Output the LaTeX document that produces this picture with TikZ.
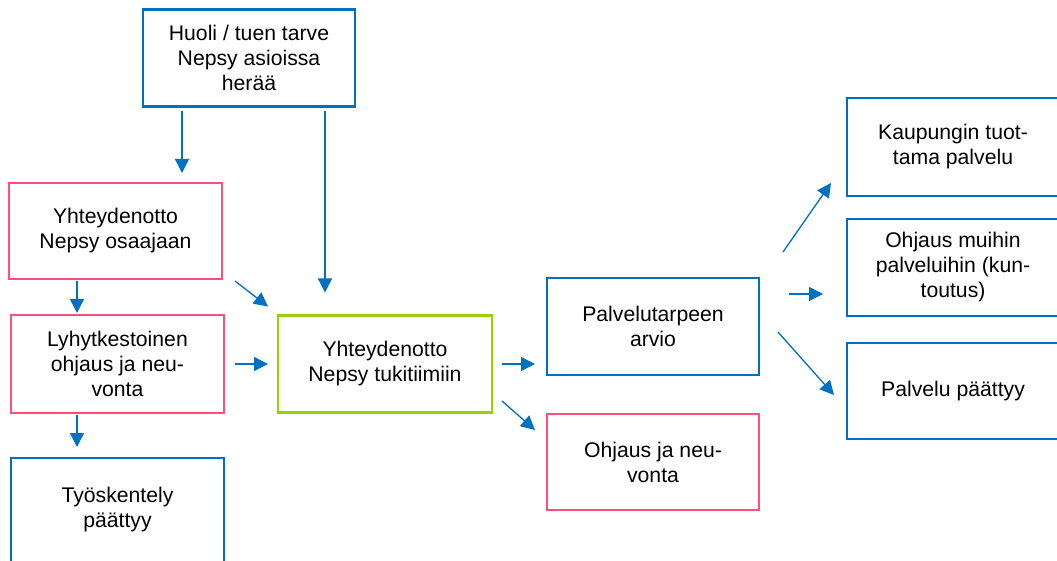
\documentclass[tikz,border=0pt]{standalone}
\usepackage{fontspec}
\setmainfont{Liberation Sans}
\usetikzlibrary{arrows.meta}

\definecolor{nblue}{HTML}{0070C0}
\definecolor{npink}{HTML}{FF4F7A}
\definecolor{ngreen}{HTML}{9BD000}

\begin{document}
\begin{tikzpicture}[x=1pt,y=-1pt,
  box/.style={draw=nblue,line width=2.6pt,minimum width=212,minimum height=97,
    align=center,inner sep=0pt,outer sep=0pt,font=\fontsize{21.2}{25}\selectfont},
  pinkbox/.style={box,draw=npink},
  greenbox/.style={box,draw=ngreen},
  arr/.style={draw=nblue,line width=1.3pt,-{Triangle[length=14pt,width=14pt]},color=nblue}]
\useasboundingbox (0,0) rectangle (1057,561);
\clip (0,0) rectangle (1057,561);

\node[box] (21) at (249,58) {Huoli / tuen tarve\\Nepsy asioissa\\herää};

\node[pinkbox,minimum width=213,minimum height=96] (11) at (115.5,231) {Yhteydenotto\\Nepsy osaajaan};
\node[pinkbox,minimum width=213,minimum height=98] (12) at (117.5,364) {Lyhytkestoinen\\ohjaus ja neu-\\vonta};
\node[box,minimum width=213,minimum height=104] (13) at (117.5,510) {Työskentely\\päättyy};

\node[greenbox,minimum width=214] (22) at (385,364) {Yhteydenotto\\Nepsy tukitiimiin};

\node[box] (31) at (653,326.5) {Palvelutarpeen\\arvio};
\node[pinkbox,minimum height=96] (32) at (653,462) {Ohjaus ja neu-\\vonta};

\node[box,minimum height=98] (41) at (953,147) {Kaupungin tuot-\\tama palvelu};
\node[box] (42) at (953,267.5) {Ohjaus muihin\\palveluihin (kun-\\toutus)};
\node[box,minimum height=96] (43) at (953,391) {Palvelu päättyy};

\draw[arr] ([shift={(39,5)}]21.south west) -- ([shift={(-40,-10)}]11.north east);
\draw[arr] ([shift={(-30,5)}]21.south east) -- ([shift={(-60,-23)}]22.north);
\draw[arr] ([shift={(-38.5,2)}]11.south) -- ([shift={(-40.5,-2)}]12.north);
\draw[arr] ([shift={(-40.5,2)}]12.south) -- ([shift={(-40.5,-11)}]13.north);
\draw[arr] ([shift={(13,2)}]11.south east) -- ([shift={(-10,-9)}]22.north west);
\draw[arr] ([shift={(11,0)}]12.east) -- ([shift={(-10,0)}]22.west);
\draw[arr] ([shift={(10,0)}]22.east) -- ([shift={(-12,37.5)}]31.west);
\draw[arr] ([shift={(10,-11.5)}]22.south east) -- ([shift={(-12,16)}]32.north west);
\draw[arr] ([shift={(24,-26)}]31.north east) -- ([shift={(-16,-13)}]41.south west);
\draw[arr] ([shift={(30,-32.5)}]31.east) -- ([shift={(-24,26.5)}]42.west);
\draw[arr] ([shift={(19,5.5)}]31.east) -- ([shift={(-13,52)}]43.north west);
\end{tikzpicture}
\end{document}
